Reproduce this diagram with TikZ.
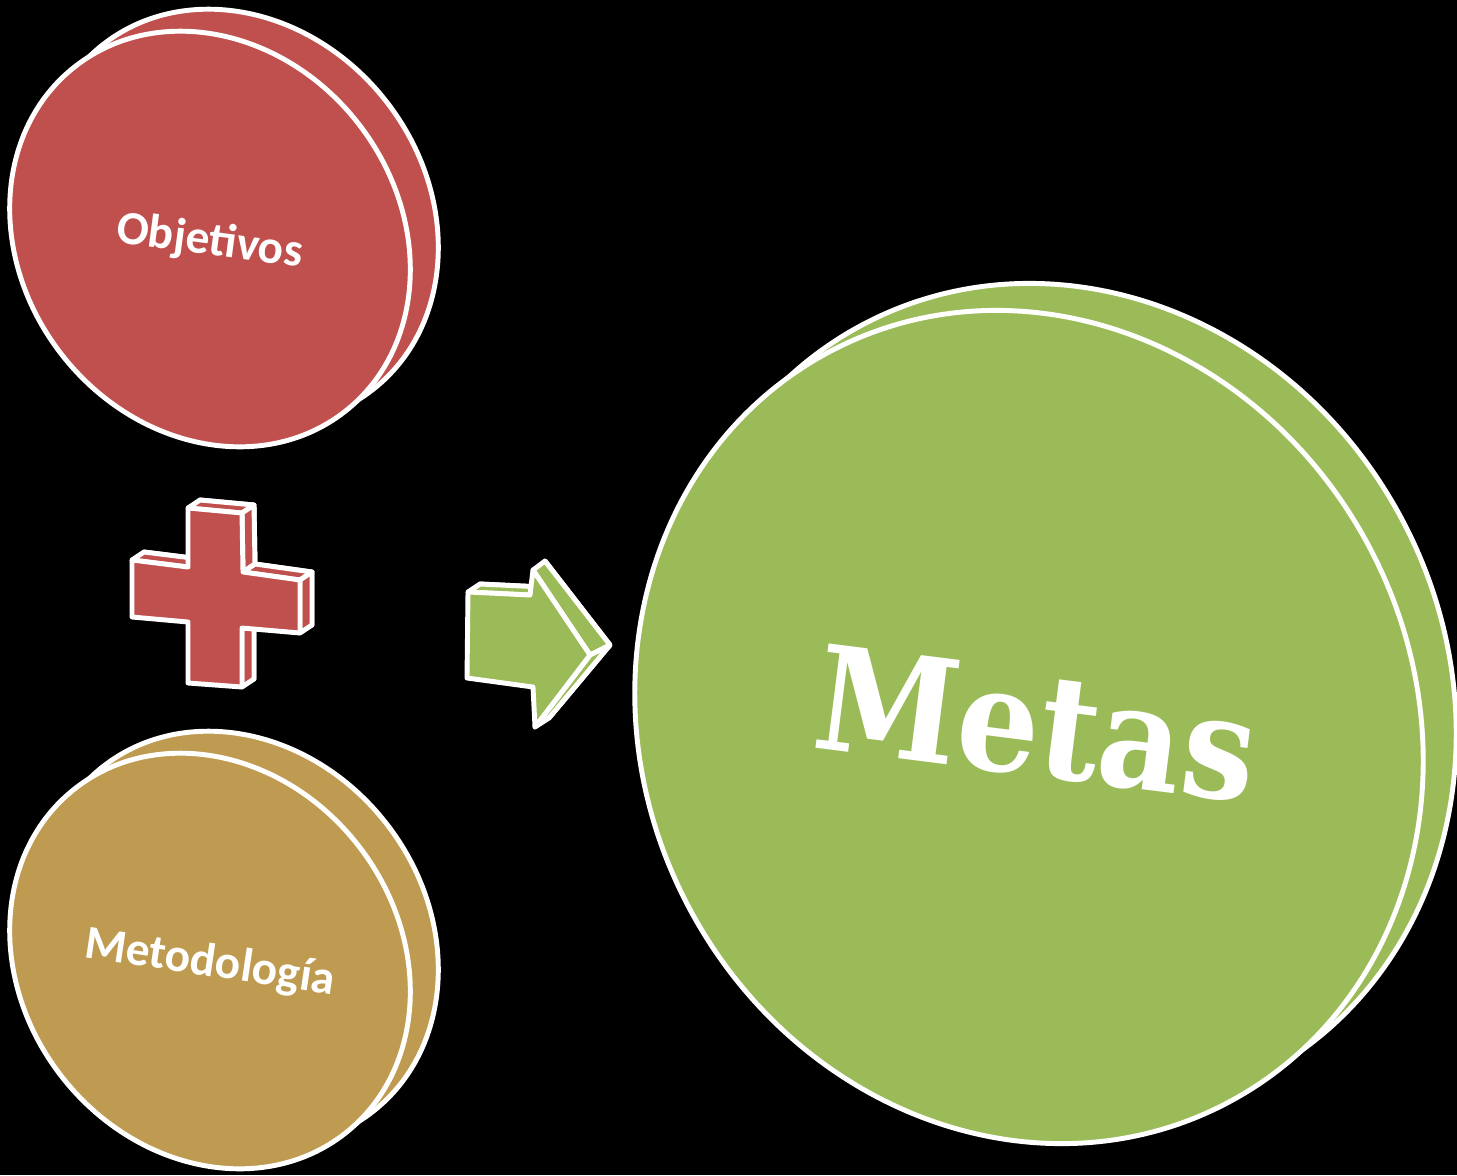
\documentclass[tikz,border=0pt]{standalone}
\usepackage{fontspec}
\usepackage{graphicx}
\newfontfamily\labelfont{Carlito}
\newfontfamily\metasfont{DejaVu Serif}
\definecolor{objred}{HTML}{C0504D}
\definecolor{methtan}{HTML}{BF9B52}
\definecolor{goalgreen}{HTML}{9BBB59}
\begin{document}
\begin{tikzpicture}[x=0.01cm,y=-0.01cm,
  edge/.style={draw=white, line width=1.4pt, line join=round},
  lbl/.style={anchor=base, inner sep=0pt, text=white, font=\labelfont\bfseries\fontsize{13.5pt}{16pt}\selectfont},
  bigl/.style={anchor=base, inner sep=0pt, text=white, font=\metasfont\bfseries\fontsize{41pt}{48pt}\selectfont}]
\fill[black] (0,0) rectangle (1457,1175);
\useasboundingbox (0,0) rectangle (1457,1175);

% ---------- Objetivos disc
\coordinate (objback) at (238,217);
\coordinate (objfront) at (210,239);
\draw[edge, fill=objred, rotate around={-52:(objback)}] (objback) ellipse [x radius=219, y radius=188];
\draw[edge, fill=objred, rotate around={-52:(objfront)}] (objfront) ellipse [x radius=219, y radius=188];
\node[lbl, rotate=-7.5] (objtxt) at (208,255) {Objetivos};

% ---------- Metodologia disc
\coordinate (metback) at (238,939);
\coordinate (metfront) at (210,961);
\draw[edge, fill=methtan, rotate around={-52:(metback)}] (metback) ellipse [x radius=219, y radius=188];
\draw[edge, fill=methtan, rotate around={-52:(metfront)}] (metfront) ellipse [x radius=219, y radius=188];
\node[lbl, rotate=-8.5] (mettxt) at (208,976) {Metodología};

% ---------- Metas disc
\coordinate (goalback) at (1062,700);
\coordinate (goalfront) at (1029,727);
\draw[edge, fill=goalgreen, rotate around={-62:(goalback)}] (goalback) ellipse [x radius=425, y radius=385];
\draw[edge, fill=goalgreen, rotate around={-62:(goalfront)}] (goalfront) ellipse [x radius=425, y radius=385];
\node[bigl, rotate=-7.2] (goaltxt) at (1030,775) {\scalebox{0.9}[1]{Metas}};

% ---------- plus sign (3D)
\coordinate (p1) at (188,508);  \coordinate (q1) at (200,500);
\coordinate (p2) at (242,513);  \coordinate (q2) at (254,505);
\coordinate (p3) at (243,572);  \coordinate (q3) at (255,564);
\coordinate (p4) at (300,580);  \coordinate (q4) at (312,572);
\coordinate (p5) at (300,633);  \coordinate (q5) at (312,625);
\coordinate (p6) at (242,628);  \coordinate (q6) at (254,620);
\coordinate (p7) at (242,687);  \coordinate (q7) at (254,679);
\coordinate (p8) at (188,683);  \coordinate (q8) at (200,675);
\coordinate (p9) at (188,622);  \coordinate (q9) at (200,614);
\coordinate (p10) at (132,617); \coordinate (q10) at (144,609);
\coordinate (p11) at (132,560); \coordinate (q11) at (144,552);
\coordinate (p12) at (188,567); \coordinate (q12) at (200,559);
\draw[edge, fill=objred] (q1)--(q2)--(q3)--(q4)--(q5)--(q6)--(q7)--(q8)--(q9)--(q10)--(q11)--(q12)--cycle;
\draw[edge, fill=objred] (p1)--(p2)--(q2)--(q1)--cycle;
\draw[edge, fill=objred] (p2)--(p3)--(q3)--(q2)--cycle;
\draw[edge, fill=objred] (p3)--(p4)--(q4)--(q3)--cycle;
\draw[edge, fill=objred] (p4)--(p5)--(q5)--(q4)--cycle;
\draw[edge, fill=objred] (p6)--(p7)--(q7)--(q6)--cycle;
\draw[edge, fill=objred] (p11)--(p12)--(q12)--(q11)--cycle;
\draw[edge, fill=objred] (p1)--(p2)--(p3)--(p4)--(p5)--(p6)--(p7)--(p8)--(p9)--(p10)--(p11)--(p12)--cycle;

% ---------- arrow (3D)
\coordinate (b1) at (468,592); \coordinate (c1) at (480,584);
\coordinate (b2) at (530,595); \coordinate (c2) at (542,587);
\coordinate (b3) at (533,570); \coordinate (c3) at (545,561);
\coordinate (b4) at (590,655); \coordinate (c4) at (610,645);
\coordinate (b5) at (535,727); \coordinate (c5) at (549,718);
\coordinate (b6) at (533,687); \coordinate (c6) at (547,678);
\coordinate (b7) at (467,678); \coordinate (c7) at (481,669);
\draw[edge, fill=goalgreen] (c1)--(c2)--(c3)--(c4)--(c5)--(c6)--(c7)--cycle;
\draw[edge, fill=goalgreen] (b1)--(b2)--(c2)--(c1)--cycle;
\draw[edge, fill=goalgreen] (b3)--(b4)--(c4)--(c3)--cycle;
\draw[edge, fill=goalgreen] (b4)--(b5)--(c5)--(c4)--cycle;
\draw[edge, fill=goalgreen] (b1)--(b2)--(b3)--(b4)--(b5)--(b6)--(b7)--cycle;
\end{tikzpicture}
\end{document}
